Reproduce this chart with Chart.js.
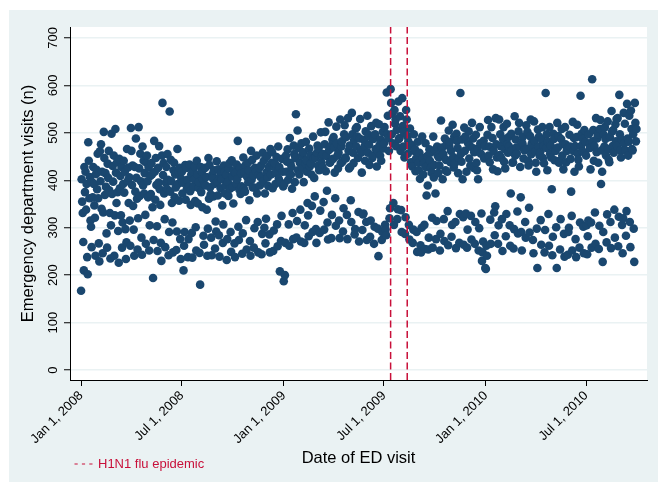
<!DOCTYPE html>
<html>
<head>
<meta charset="utf-8">
<title>Daily emergency department visits, 2008–2010</title>
<script src="https://cdn.jsdelivr.net/npm/chart.js@4.4.1/dist/chart.umd.min.js"></script>
<style>
  html, body { margin: 0; padding: 0; background: #ffffff; }
  #wrap { width: 658px; height: 482px; }
</style>
</head>
<body>
<div id="wrap"><canvas id="edChart" width="658" height="482"></canvas></div>
<script>
// Daily ED visit counts, one value per day starting Jan 1, 2008 (day 0).
const visits2008H1 = [
  167, 402, 355, 331, 270, 210, 428,  375, 418, 338, 392, 238, 202, 480,
  441, 362, 407, 315, 302, 259, 396,  364, 428, 392, 347, 321, 241, 413,
  422, 381, 456, 362, 267, 229, 461,  398, 476, 340, 418, 246, 332, 502,
  447, 369, 415, 386, 288, 258, 435,  405, 462, 379, 331, 235, 305, 498,
  371, 430, 397, 452, 241, 326, 508,  416, 352, 438, 375, 293, 226, 445,
  383, 409, 326, 428, 258, 311, 392,  441, 374, 418, 297, 234, 269, 466,
  398, 427, 352, 406, 315, 262, 510,  462, 390, 431, 346, 296, 241, 428,
  376, 488, 405, 361, 254, 320, 512,  425, 367, 456, 398, 279, 243, 471,
  389, 441, 372, 415, 327, 266, 437,  452, 398, 364, 427, 252, 305, 409,
  371, 436, 412, 343, 194, 274, 483,  418, 359, 447, 390, 303, 251, 426,
  395, 472, 381, 348, 268, 230, 452,  563, 411, 436, 372, 318, 259, 395,
  428, 382, 455, 401, 242, 291, 545,  376, 443, 398, 352, 311, 248, 421,
  437, 364, 412, 385, 253, 292, 466,  392, 418, 357, 426, 276, 234, 403
];
const visits2008H2 = [
  418, 372, 395, 210, 262, 291, 432,  359, 426, 382, 401, 238, 276, 387,
  433, 377, 348, 412, 289, 237, 419,  386, 402, 429, 356, 301, 252, 441,
  412, 351, 384, 396, 247, 180, 428,  375, 418, 343, 402, 283, 264, 391,
  426, 389, 407, 338, 241, 298, 447,  361, 432, 385, 370, 279, 242, 412,
  404, 366, 421, 392, 256, 313, 292,  440, 397, 368, 423, 284, 239, 408,
  383, 416, 402, 347, 268, 307, 431,  418, 372, 389, 411, 232, 276, 396,
  367, 425, 436, 382, 291, 249, 442,  408, 386, 351, 419, 267, 238, 415,
  393, 433, 402, 483, 302, 274, 380,  426, 371, 414, 387, 245, 288, 448,
  382, 418, 376, 432, 316, 254, 407,  437, 396, 421, 358, 272, 241, 462,
  401, 443, 385, 410, 258, 299, 426,  384, 419, 452, 372, 312, 248, 412,
  426, 389, 407, 431, 244, 287, 458,  398, 441, 300, 372, 267, 319, 417,
  451, 406, 388, 428, 286, 248, 466,  412, 437, 459, 383, 251, 294, 428,
  436, 392, 415, 449, 307, 261, 471,  403, 428, 208, 396, 272, 325, 445,
  418, 387
];
const visits2009H1 = [
  187, 392, 200, 268, 452, 418, 439,  465, 401, 307, 262, 489, 436, 412,
  428, 382, 331, 276, 473, 455, 396,  447, 539, 279, 314, 505, 421, 468,
  412, 437, 338, 271, 478, 452, 425,  459, 396, 268, 305, 436, 481, 442,
  418, 352, 326, 282, 467, 429, 453,  436, 412, 346, 291, 492, 446, 405,
  366, 448, 297, 268, 458, 473, 431,  467, 421, 289, 336, 501, 438, 452,
  428, 455, 354, 296, 476, 502, 419,  451, 378, 311, 275, 522, 464, 437,
  438, 472, 278, 327, 486, 445, 491,  469, 416, 362, 304, 513, 478, 452,
  425, 458, 315, 278, 528, 436, 471,  482, 439, 292, 341, 497, 516, 448,
  446, 491, 327, 276, 531, 462, 425,  473, 428, 358, 312, 542, 497, 458,
  436, 485, 286, 297, 509, 471, 512,  492, 447, 333, 271, 488, 529, 463,
  458, 416, 295, 328, 330, 485, 472,  441, 503, 312, 274, 536, 458, 496,
  475, 432, 281, 315, 514, 489, 447,  452, 487, 266, 302, 497, 466, 521,
  429, 463, 298, 240, 518, 474, 452,  486, 441, 274, 291, 502, 467
];
const visits2009H2 = [
  478, 512, 306, 296, 284, 585, 497,  536, 488, 462, 320, 341, 592, 563,
  497, 541, 478, 352, 306, 548, 519,  528, 472, 506, 318, 339, 566, 487,
  489, 535, 462, 337, 291, 573, 514,  471, 502, 448, 287, 322, 548, 528,
  493, 456, 482, 306, 275, 509, 471,  438, 474, 429, 268, 296, 497, 462,
  465, 419, 446, 291, 249, 481, 437,  421, 458, 403, 263, 248, 300, 492,
  447, 412, 436, 306, 255, 478, 428,  368, 451, 389, 254, 279, 465, 441,
  458, 427, 416, 321, 258, 492, 406,  432, 463, 372, 276, 314, 471, 452,
  415, 448, 431, 252, 287, 526, 467,  469, 402, 455, 318, 272, 488, 421,
  443, 476, 418, 335, 263, 505, 472,  481, 438, 462, 281, 306, 517, 449,
  427, 492, 436, 312, 257, 498, 483,  468, 415, 447, 268, 329, 584, 456,
  439, 486, 402, 322, 264, 511, 462,  492, 330, 418, 258, 296, 478, 503,
  446, 473, 431, 325, 275, 521, 468,  488, 426, 459, 266, 312, 496, 437,
  421, 467, 402, 252, 299, 512, 478,  456, 330, 230, 248, 271, 483, 446,
  472, 215
];
const visits2010H1 = [
  213, 262, 241, 496, 527, 452, 471,  438, 317, 266, 512, 468, 489, 423,
  462, 332, 284, 345, 531, 476, 448,  419, 266, 305, 528, 453, 497, 472,
  447, 318, 251, 487, 512, 439, 466,  425, 282, 329, 519, 476, 458, 491,
  471, 305, 262, 372, 498, 463, 437,  438, 256, 297, 535, 452, 486, 469,
  456, 334, 288, 503, 521, 471, 428,  364, 291, 252, 478, 492, 446, 465,
  463, 312, 279, 516, 467, 502, 441,  431, 342, 290, 493, 528, 455, 478,
  472, 274, 246, 524, 483, 461, 437,  418, 298, 215, 507, 471, 492, 452,
  459, 316, 264, 486, 512, 447, 472,  436, 248, 295, 584, 468, 497, 421,
  481, 329, 262, 512, 456, 473, 448,  381, 242, 281, 498, 487, 442, 466,
  462, 301, 215, 521, 469, 493, 437,  441, 254, 318, 487, 508, 452, 476,
  423, 287, 239, 512, 476, 438, 462,  468, 243, 291, 300, 496, 471, 445,
  376, 325, 252, 523, 462, 489, 418,  472, 276, 238, 491, 517, 456, 443,
  429, 258, 311, 578, 472, 498, 461,  487, 302, 246, 506, 458, 481
];
const visits2010H2 = [
  452, 305, 244, 282, 315, 497, 476,  468, 423, 311, 258, 613, 482, 506,
  441, 472, 332, 266, 531, 459, 488,  496, 437, 255, 304, 508, 527, 392,
  463, 418, 228, 291, 496, 471, 512,  487, 452, 269, 328, 524, 466, 443,
  438, 491, 312, 257, 546, 503, 472,  506, 458, 338, 279, 518, 482, 529,
  472, 531, 261, 323, 580, 497, 463,  448, 486, 306, 246, 320, 542, 478,
  519, 463, 283, 335, 561, 488, 452,  481, 536, 312, 259, 547, 508, 466,
  463, 497, 298, 228, 563, 521, 482,  508
];

// Axis ticks (x in days since Jan 1, 2008)
const xTickDays = [0, 182, 366, 547, 731, 912];
const xTickLabels = ["Jan 1, 2008", "Jul 1, 2008", "Jan 1, 2009", "Jul 1, 2009", "Jan 1, 2010", "Jul 1, 2010"];
const yTickValues = [0, 100, 200, 300, 400, 500, 600, 700];

// Start and end of the H1N1 epidemic period (days since Jan 1, 2008)
const epidemicDays = [559, 589];
const epidemicLabel = "H1N1 flu epidemic";

const NAVY = '#1a476f';
const CRIMSON = '#c8103a';
const PANEL = '#eaf2f3';
const FONT = '"Liberation Sans", Arial, Helvetica, sans-serif';

const dailyVisits = [].concat(visits2008H1, visits2008H2, visits2009H1,
                              visits2009H2, visits2010H1, visits2010H2);
const points = dailyVisits.map((v, i) => ({ x: i, y: v }));

const Y_MIN = -21, Y_MAX = 723;

const epidemicSets = epidemicDays.map(d => ({
  type: 'line',
  label: epidemicLabel,
  data: [{ x: d, y: Y_MIN }, { x: d, y: Y_MAX }],
  borderColor: CRIMSON,
  borderWidth: 1.5,
  borderDash: [7, 3.5],
  pointRadius: 0,
  fill: false,
  order: 0
}));

// Outer light panel and white plot region
const backdrop = {
  id: 'backdrop',
  beforeDraw(chart) {
    const { ctx, chartArea: a } = chart;
    ctx.save();
    ctx.fillStyle = '#ffffff';
    ctx.fillRect(0, 0, chart.width, chart.height);
    ctx.fillStyle = PANEL;
    ctx.fillRect(9, 10, chart.width - 9, chart.height - 10);
    ctx.fillStyle = '#ffffff';
    ctx.fillRect(a.left, a.top, a.right - a.left, a.bottom - a.top);
    ctx.restore();
  }
};

// Legend key for the dashed epidemic lines, placed bottom-left
const epidemicKey = {
  id: 'epidemicKey',
  afterDraw(chart) {
    const { ctx } = chart;
    const y = 464;
    ctx.save();
    ctx.strokeStyle = CRIMSON;
    ctx.lineWidth = 1.2;
    ctx.setLineDash([3.2, 4.2]);
    ctx.beginPath();
    ctx.moveTo(74.5, y);
    ctx.lineTo(94, y);
    ctx.stroke();
    ctx.setLineDash([]);
    ctx.fillStyle = CRIMSON;
    ctx.font = '13px ' + FONT;
    ctx.textBaseline = 'middle';
    ctx.textAlign = 'left';
    ctx.fillText(epidemicLabel, 98, y);
    ctx.restore();
  }
};

new Chart(document.getElementById('edChart'), {
  type: 'scatter',
  data: {
    datasets: [
      ...epidemicSets,
      {
        type: 'scatter',
        label: 'ED visits',
        data: points,
        backgroundColor: NAVY,
        borderColor: NAVY,
        borderWidth: 0,
        pointRadius: 4.3,
        pointHoverRadius: 4.3,
        order: 1
      }
    ]
  },
  options: {
    responsive: false,
    animation: false,
    devicePixelRatio: 1,
    layout: { padding: { left: 0, top: 27, right: 11, bottom: 0 } },
    plugins: {
      legend: { display: false },
      tooltip: { enabled: false }
    },
    scales: {
      x: {
        type: 'linear',
        min: -20,
        max: 1022,
        afterBuildTicks(scale) { scale.ticks = xTickDays.map(v => ({ value: v })); },
        afterFit(scale) { scale.height = 102; },
        ticks: {
          minRotation: 45,
          maxRotation: 45,
          padding: 2,
          color: '#000',
          font: { family: FONT, size: 13 },
          callback(value, index) { return xTickLabels[index]; }
        },
        grid: {
          drawOnChartArea: false,
          drawTicks: true,
          tickLength: 6,
          tickColor: '#000',
          tickWidth: 1
        },
        border: { display: true, color: '#000', width: 1 },
        title: {
          display: true,
          text: 'Date of ED visit',
          color: '#000',
          font: { family: FONT, size: 16.5 },
          padding: { top: 0, bottom: 14 }
        }
      },
      y: {
        type: 'linear',
        min: Y_MIN,
        max: Y_MAX,
        afterBuildTicks(scale) { scale.ticks = yTickValues.map(v => ({ value: v })); },
        afterFit(scale) { scale.width = 70; },
        ticks: {
          minRotation: 90,
          maxRotation: 90,
          crossAlign: 'center',
          padding: 0,
          color: '#000',
          font: { family: FONT, size: 13 }
        },
        grid: {
          color: PANEL,
          lineWidth: 1.5,
          drawTicks: true,
          tickLength: 6,
          tickColor: '#000',
          tickWidth: 1
        },
        border: { display: true, color: '#000', width: 1 },
        title: {
          display: true,
          text: 'Emergency department visits (n)',
          color: '#000',
          font: { family: FONT, size: 16.5 },
          padding: { top: 19, bottom: 0 }
        }
      }
    }
  },
  plugins: [backdrop, epidemicKey]
});
</script>
</body>
</html>
